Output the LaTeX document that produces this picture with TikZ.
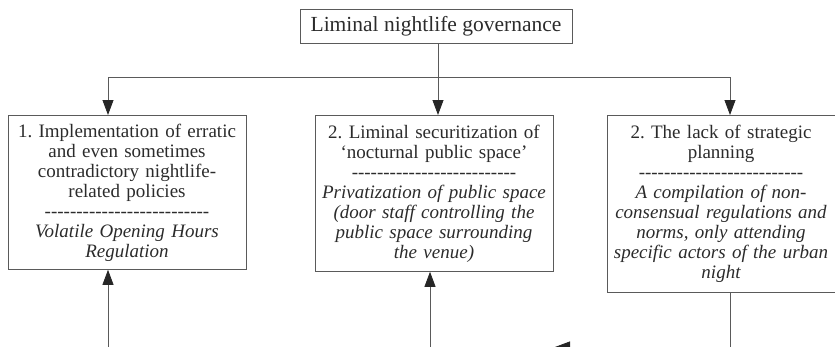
\documentclass[tikz,border=0pt]{standalone}
\usepackage{fontspec}
\setmainfont{Liberation Serif}
\usepackage{tikz}
\usetikzlibrary{arrows.meta,positioning}

\definecolor{linegray}{HTML}{5A5A5A}
\definecolor{textgray}{HTML}{2B2B2B}

\newcommand{\dashrow}{\foreach \k in {1,...,26}{-}}
\frenchspacing

\begin{document}
\begin{tikzpicture}[x=1pt,y=-1pt,
        box/.style={draw=linegray, line width=0.8pt, text=textgray, align=center,
            text width=#1, inner xsep=0pt, inner ysep=0pt, anchor=north,
            font=\fontsize{19}{20}\selectfont},
        conn/.style={draw=linegray, line width=0.8pt},
        arr/.style={conn, -{Triangle[length=15pt,width=11pt,color=black!85,fill=black!85]}}]
            \clip (0,0) rectangle (835,346);

            % top box
            \node[draw=linegray, line width=0.8pt, text=textgray, inner sep=0pt,
                minimum width=272pt, minimum height=34pt,
                font=\fontsize{21.5}{24}\selectfont] (governance) at (436,26) {Liminal nightlife governance};

            % the three boxes
            \node[box=238pt, minimum height=154pt] (policies) at (127,115) {1. Implementation of erratic\\ and even sometimes\\ contradictory nightlife-\\ related policies\\ \dashrow\\ \itshape Volatile Opening Hours\\ Regulation};
            \node[box=238pt, minimum height=156pt] (securitization) at (434,115) {2. Liminal securitization of\\ ‘nocturnal public space’\\ \dashrow\\ \itshape Privatization of public space\\ (door staff controlling the\\ public space surrounding\\ the venue)};
            \node[box=228pt, minimum height=177pt] (planning) at (721,115) {2. The lack of strategic\\ planning\\ \dashrow\\ \itshape A compilation of non-\\ consensual regulations and\\ norms, only attending\\ specific actors of the urban\\ night};

            % split from the top box
            \coordinate (split) at (438,77);
            \coordinate (splitleft) at (108,77);
            \coordinate (splitright) at (730,77);
            \draw[conn] (splitleft) -- (splitright);
            \draw[arr] (governance.south -| split) -- (securitization.north -| split);
            \draw[arr] (splitleft) -- (policies.north -| splitleft);
            \draw[arr] (splitright) -- (planning.north -| splitright);

            % lines from below
            \coordinate (below1) at (108,360);
            \coordinate (below2) at (430,360);
            \coordinate (below3) at (730,360);
            \draw[arr] (below1) -- (policies.south -| below1);
            \draw[arr] (below2) -- (securitization.south -| below2);
            \draw[conn] (planning.south -| below3) -- (below3);

            % arrow cut by the lower edge
            \coordinate (cutstart) at (610,347);
            \coordinate (cuttip) at (555,347);
            \draw[arr] (cutstart) -- (cuttip);
        \end{tikzpicture}
\end{document}
